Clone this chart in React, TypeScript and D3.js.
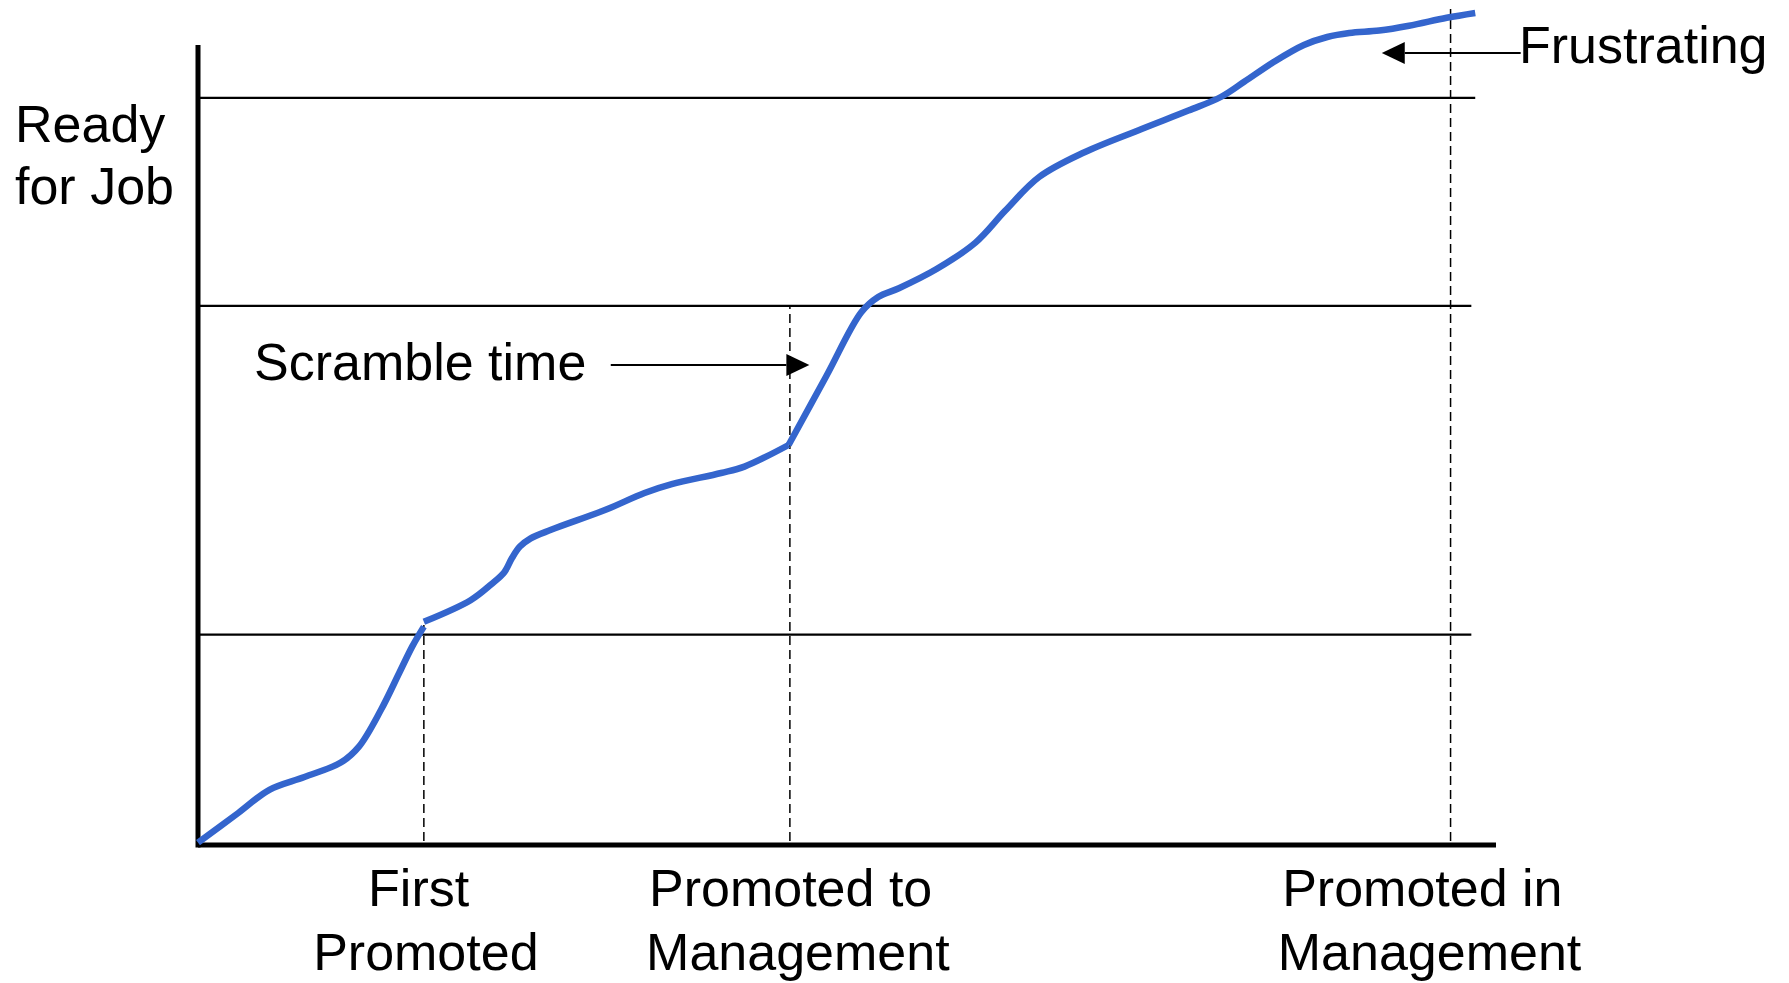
import React from 'react'
import * as d3 from 'd3'

// career progress curve (x: time 0-100, y: readiness 0-100)
const earlyCareer: [number, number][] = [
    [0, 0.3], [3.1, 4], [5.5, 6.9], [8.2, 8.5], [11, 10.3], [12.4, 12.3],
    [14.1, 16.9], [15.5, 21.5], [16.5, 24.8], [17.4, 27.3],
]
const midCareer: [number, number][] = [
    [17.4, 27.9], [21, 30.6], [22.6, 32.6], [23.6, 34.1], [24.2, 35.9],
    [24.8, 37.3], [25.6, 38.3], [27.2, 39.4], [31.4, 41.9], [34.4, 44],
    [36.5, 45.1], [40.3, 46.5], [42.1, 47.3], [45.5, 50],
]
const lateCareer: [number, number][] = [
    [45.5, 50], [48.4, 58.6], [51.1, 66.6], [52.4, 68.5],
    [54, 69.6], [56.9, 72], [59.9, 75.3], [62.2, 79.3], [64.8, 83.5],
    [68.3, 86.6], [72.7, 89.5], [76.3, 91.8], [78.8, 93.5], [80.6, 95.4],
    [82.9, 97.9], [85.2, 100], [87, 101], [88.7, 101.5], [91, 101.8],
    [93.3, 102.4], [96.2, 103.4], [98.4, 104],
]

// readiness levels (horizontal lines) and where they stop
const levels = [93.4, 67.4, 26.3]
const levelEnds = [98.4, 98.1, 98.1]

// promotions: x position, how high the dashed line goes, label lines
const milestoneX = [17.4, 45.6, 96.5]
const milestoneTop = [27.5, 67.4, 104.5]
const milestoneLabels = [
    ['First ', 'Promoted'],
    ['Promoted to ', 'Management'],
    ['Promoted in ', 'Management'],
]
const labelShift = [2, 8, -21]

const W = 1789
const H = 983
const FONT = "'Liberation Sans', Arial, sans-serif"
const BLUE = '#3465cd'

const x = d3.scaleLinear().domain([0, 100]).range([198, 1496])
const y = d3.scaleLinear().domain([0, 100]).range([845, 45])

const curve = d3
    .line<[number, number]>()
    .x(d => x(d[0]))
    .y(d => y(d[1]))
    .curve(d3.curveCatmullRom.alpha(0.5))

const Arrow = ({ x1, x2, yv }: { x1: number; x2: number; yv: number }) => {
    const px1 = x(x1)
    const px2 = x(x2)
    const py = y(yv)
    const dir = px2 > px1 ? 1 : -1
    const head = 23
    return (
        <g>
            <line x1={px1} y1={py} x2={px2 - dir * head} y2={py} stroke='#000' strokeWidth={2} />
            <path
                d={`M${px2},${py}L${px2 - dir * head},${py - 11}L${px2 - dir * head},${py + 11}Z`}
                fill='#000'
            />
        </g>
    )
}

export default function App() {
    return (
        <svg
            width={W}
            height={H}
            style={{ position: 'absolute', left: 0, top: 0, background: '#fff' }}
            fontFamily={FONT}
        >
            {/* readiness levels */}
            {levels.map((lv, i) => (
                <line
                    key={'lv' + i}
                    x1={x(0)}
                    x2={x(levelEnds[i])}
                    y1={y(lv)}
                    y2={y(lv)}
                    stroke='#000'
                    strokeWidth={2.2}
                />
            ))}

            {/* promotion markers */}
            {milestoneX.map((mx, i) => (
                <line
                    key={'ms' + i}
                    x1={x(mx)}
                    x2={x(mx)}
                    y1={y(0.5)}
                    y2={y(milestoneTop[i])}
                    stroke='#000'
                    strokeWidth={1.5}
                    strokeDasharray='9 5'
                />
            ))}

            {/* axes */}
            <line x1={x(0)} x2={x(0)} y1={y(100)} y2={y(0) + 2.5} stroke='#000' strokeWidth={5} />
            <line x1={x(0)} x2={x(100)} y1={y(0)} y2={y(0)} stroke='#000' strokeWidth={5} />

            {/* the career curve */}
            {[earlyCareer, midCareer, lateCareer].map((seg, i) => (
                <path
                    key={'seg' + i}
                    d={curve(seg) ?? ''}
                    fill='none'
                    stroke={BLUE}
                    strokeWidth={6.5}
                    strokeLinejoin='round'
                />
            ))}

            {/* y label */}
            <text x={15} y={142} fontSize={52}>Ready</text>
            <text x={15} y={204} fontSize={52}>for Job</text>

            {/* annotations */}
            <text x={254} y={380} fontSize={52}>Scramble time</text>
            <Arrow x1={31.8} x2={47.1} yv={60} />
            <text x={1519} y={63} fontSize={52}>Frustrating</text>
            <Arrow x1={101.9} x2={91.2} yv={99} />

            {/* x labels */}
            {milestoneLabels.map((lines, i) => (
                <text
                    key={'lb' + i}
                    fontSize={52}
                    textAnchor='middle'
                    style={{ whiteSpace: 'pre' }}
                >
                    {lines.map((t, j) => (
                        <tspan key={j} x={x(milestoneX[i]) + labelShift[i]} y={906 + j * 64}>
                            {t}
                        </tspan>
                    ))}
                </text>
            ))}
        </svg>
    )
}
